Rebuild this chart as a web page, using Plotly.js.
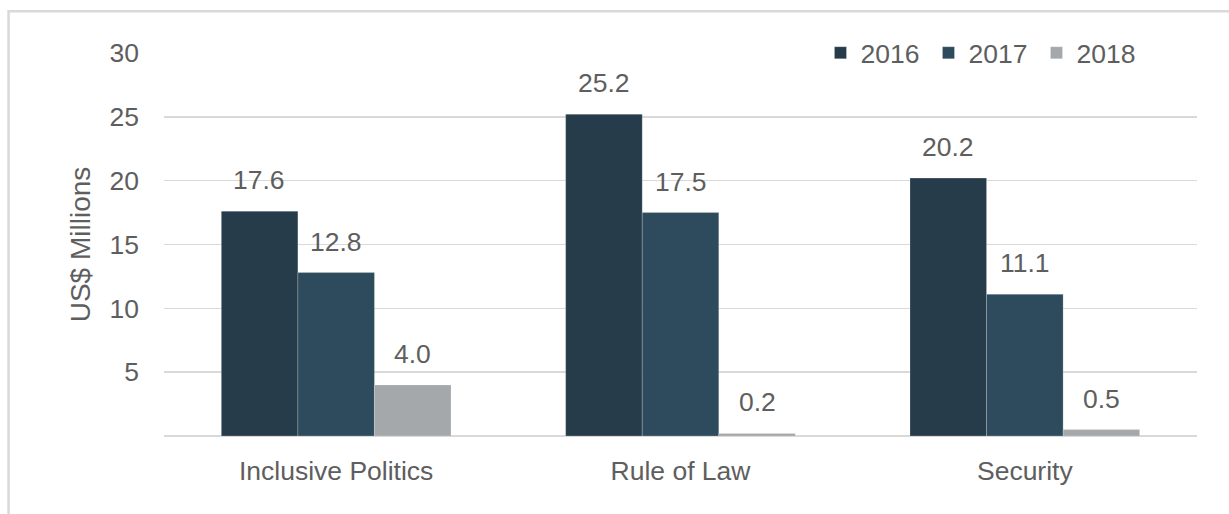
<!DOCTYPE html>
<html>
<head>
<meta charset="utf-8">
<script src="https://cdn.plot.ly/plotly-3.0.1.min.js"></script>
<style>html,body{margin:0;padding:0;background:#fff;}#chart{width:1229px;height:514px;}</style>
</head>
<body>
<div id="chart"></div>
<script>
const categories = ["Inclusive Politics", "Rule of Law", "Security"];
const years = ["2016", "2017", "2018"];
const values2016 = [17.6, 25.2, 20.2];
const values2017 = [12.8, 17.5, 11.1];
const values2018 = [4.0, 0.2, 0.5];
const yTickVals = [5, 10, 15, 20, 25, 30];
const yTitle = "US$ Millions";

const series = [values2016, values2017, values2018];
const colors = ["#263C4A", "#2D4B5C", "#A4A8AB"];
const FONT = "Liberation Sans, Arial, sans-serif";
const TXT = "#5E5E5E";
const FS = 26.5;

const traces = series.map((vals, i) => ({
  type: "bar",
  name: years[i],
  x: categories,
  y: vals,
  marker: {color: colors[i], line: {width: 0.6, color: "rgba(255,255,255,0.35)"}},
  hoverinfo: "skip"
}));

// data labels above bars
const barShift = [-76.7, 0, 76.7];
const annotations = [];
series.forEach((vals, i) => {
  vals.forEach((v, j) => {
    annotations.push({
      x: categories[j], y: v, xref: "x", yref: "y",
      text: v.toFixed(1), showarrow: false,
      xshift: barShift[i], yshift: 31, yanchor: "middle",
      font: {family: FONT, size: FS, color: TXT}
    });
  });
});

const layout = {
  width: 1229, height: 514,
  margin: {l: 164, r: 32, t: 53, b: 78},
  paper_bgcolor: "#fff", plot_bgcolor: "#fff",
  barmode: "group", bargap: 0.333, bargroupgap: 0,
  font: {family: FONT, size: FS, color: TXT},
  showlegend: true,
  legend: {
    orientation: "h", x: 0.6355, xanchor: "left", y: 1.0, yanchor: "middle",
    font: {family: FONT, size: FS, color: TXT}, bgcolor: "rgba(0,0,0,0)",
    traceorder: "normal", itemclick: false, itemwidth: 30,
    entrywidth: 63, entrywidthmode: "pixels"
  },
  xaxis: {
    type: "category", showgrid: false, showline: false, ticks: "",
    tickfont: {family: FONT, size: FS, color: TXT}, ticklabelstandoff: 16, fixedrange: true
  },
  yaxis: {
    range: [0, 30], tickvals: yTickVals, showgrid: true, gridcolor: "#D9D9D9", gridwidth: 1.5,
    zeroline: true, zerolinecolor: "#D9D9D9", zerolinewidth: 1.5, showline: false, ticks: "",
    tickfont: {family: FONT, size: FS, color: TXT}, ticklabelstandoff: 24,
    title: {text: yTitle, font: {family: FONT, size: 28, color: TXT}, standoff: 10},
    fixedrange: true
  },
  annotations: annotations,
  shapes: [{
    type: "rect", xref: "paper", yref: "paper",
    x0: -0.1505, x1: 1.06, y0: -0.4, y1: 1.1093,
    line: {color: "#D9D9D9", width: 2.5}, fillcolor: "rgba(0,0,0,0)", layer: "below"
  }]
};

Plotly.newPlot("chart", traces, layout, {displayModeBar: false, staticPlot: true});
</script>
</body>
</html>
